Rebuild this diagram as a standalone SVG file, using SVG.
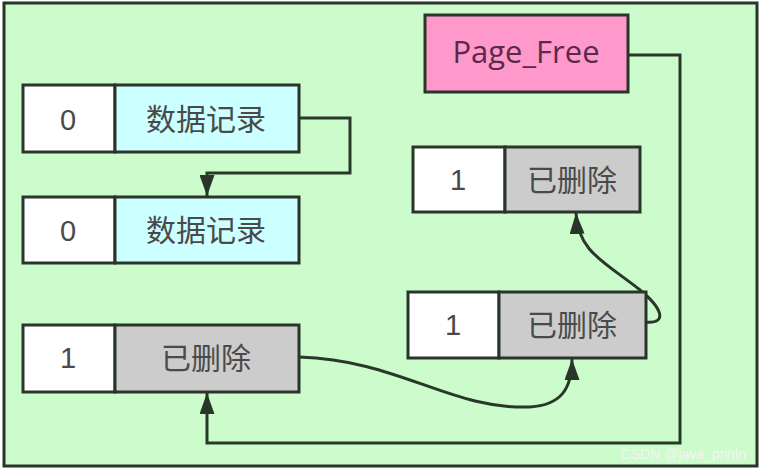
<svg xmlns="http://www.w3.org/2000/svg" width="761" height="470" viewBox="0 0 761 470">
<defs>
<style>
.box{stroke:#2a352a;stroke-width:3}
.w{fill:#ffffff}.c{fill:#ccffff}.g{fill:#cccccc}.p{fill:#ff99cc}
.t{font-family:"Noto Sans CJK SC","Noto Sans",sans-serif;font-size:30px;fill:#4a4a4a;text-anchor:middle}
.n{font-family:"Liberation Sans",sans-serif;font-size:29px;fill:#4a4a4a;text-anchor:middle}
.ln{fill:none;stroke:#2a382a;stroke-width:3}
</style>
<marker id="ah" viewBox="0 0 14 10" refX="14" refY="5" markerWidth="7" markerHeight="5" orient="auto" markerUnits="strokeWidth">
<path d="M0,0 L14,5 L0,10 z" fill="#2a352a"/>
</marker>
</defs>
<rect x="4" y="3" width="753" height="463" fill="#ccfccc" stroke="#2a352a" stroke-width="3"/>
<g id="connectors">
<path class="ln" d="M299,118 H350 V173 H207 V196" marker-end="url(#ah)"/>
<path class="ln" d="M628,55 H680 V443 H207 V393" marker-end="url(#ah)"/>
<path class="ln" d="M299,357 C400,360 450,410 530,407 C560,405 572,390 572,359" marker-end="url(#ah)"/>
<path class="ln" d="M646,322 C668,324 662,308 640,290 C605,262 578,252 576,213" marker-end="url(#ah)"/>
</g>
<g id="row1">
<rect class="box w" x="23" y="85" width="92" height="67"/>
<rect class="box c" x="115" y="85" width="184" height="67"/>
<text class="n" x="68" y="130">0</text>
<text class="t" x="206" y="130">数据记录</text>
</g>
<g id="row2">
<rect class="box w" x="23" y="197" width="92" height="66"/>
<rect class="box c" x="115" y="197" width="184" height="66"/>
<text class="n" x="68" y="241">0</text>
<text class="t" x="206" y="241">数据记录</text>
</g>
<g id="row3">
<rect class="box w" x="23" y="325" width="92" height="67"/>
<rect class="box g" x="115" y="325" width="184" height="67"/>
<text class="n" x="68" y="368">1</text>
<text class="t" x="206" y="369">已删除</text>
</g>
<g id="pagefree">
<rect class="box p" x="425" y="15" width="203" height="77"/>
<text x="526" y="63" style="font-size:31px;text-anchor:middle;fill:#5a2a4a;font-family:'Open Sans','Noto Sans',sans-serif">Page_Free</text>
</g>
<g id="del-top">
<rect class="box w" x="413" y="147" width="92" height="65"/>
<rect class="box g" x="505" y="147" width="135" height="65"/>
<text class="n" x="458" y="190">1</text>
<text class="t" x="572" y="191">已删除</text>
</g>
<g id="del-mid">
<rect class="box w" x="408" y="292" width="91" height="66"/>
<rect class="box g" x="499" y="292" width="147" height="66"/>
<text class="n" x="453" y="335">1</text>
<text class="t" x="572" y="336">已删除</text>
</g>
<text x="746" y="459" style="font-family:'Liberation Sans',sans-serif;font-size:14px;fill:#f4f4f4;text-anchor:end">CSDN @java_prinln</text>
</svg>
